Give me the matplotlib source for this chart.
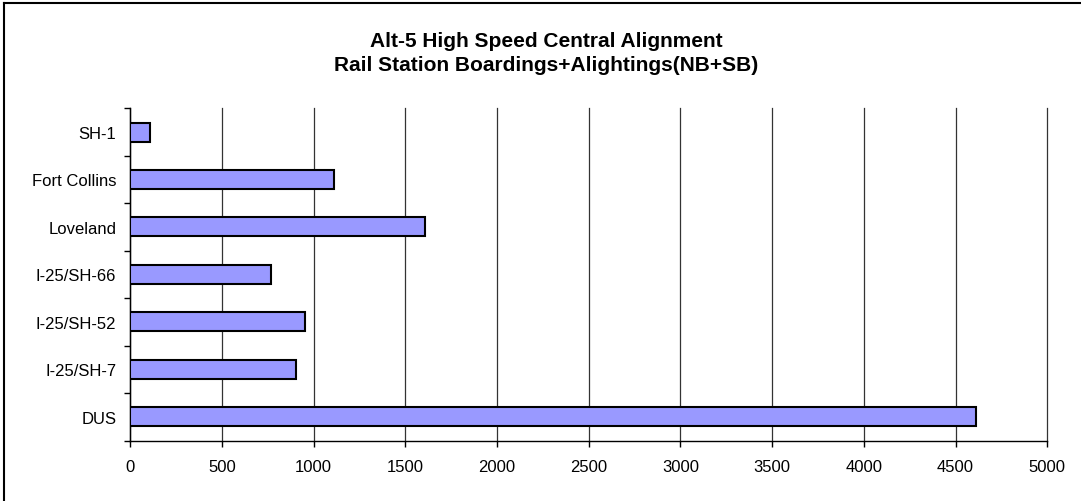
import matplotlib.pyplot as plt
import numpy as np

plt.rcParams['font.family'] = ['Liberation Sans', 'DejaVu Sans']

stations = ['SH-1', 'Fort Collins', 'Loveland', 'I-25/SH-66',
            'I-25/SH-52', 'I-25/SH-7', 'DUS']
boardings = [107, 1111, 1607, 765, 951, 903, 4613]
xticks = np.arange(0, 5001, 500)

fig = plt.figure(figsize=(10.81, 5.02), dpi=100)
ax = fig.add_axes([0.1205, 0.1205, 0.8483, 0.6618])

y = np.arange(len(stations))
ax.barh(y, boardings, height=0.4, color='#9999FF', edgecolor='black',
        linewidth=1.5, zorder=3)

ax.set_xlim(0, 5000)
ax.set_ylim(len(stations) - 0.5, -0.5)
ax.set_xticks(xticks)
ax.tick_params(axis='x', length=4, width=1, pad=9, labelsize=12)
ax.grid(axis='x', color='#333333', linewidth=0.9, zorder=0)
for gl in ax.get_xgridlines():
    gl.set_clip_on(False)

# category boundaries get the tick marks, labels sit on the centres
ax.set_yticks(np.arange(-0.5, len(stations)), labels=[])
ax.set_yticks(y, labels=stations, minor=True)
ax.tick_params(axis='y', which='major', length=4, width=1)
ax.tick_params(axis='y', which='minor', length=0, pad=10, labelsize=12)

for s in ['top', 'right']:
    ax.spines[s].set_visible(False)
ax.spines['left'].set_linewidth(1)
ax.spines['bottom'].set_linewidth(1)

fig.text(0.505, 0.918, 'Alt-5 High Speed Central Alignment',
         ha='center', va='center', fontsize=15, fontweight='bold')
fig.text(0.505, 0.870, 'Rail Station Boardings+Alightings(NB+SB)',
         ha='center', va='center', fontsize=15, fontweight='bold')

# chart frame (only left and top edges show in the crop)
fig.add_artist(plt.Line2D([4 / 1081, 4 / 1081], [0, 1 - 4 / 502],
                          color='black', linewidth=1.5, transform=fig.transFigure))
fig.add_artist(plt.Line2D([4 / 1081, 1], [1 - 4 / 502, 1 - 4 / 502],
                          color='black', linewidth=1.5, transform=fig.transFigure))

fig.savefig('out.png', dpi=100)
